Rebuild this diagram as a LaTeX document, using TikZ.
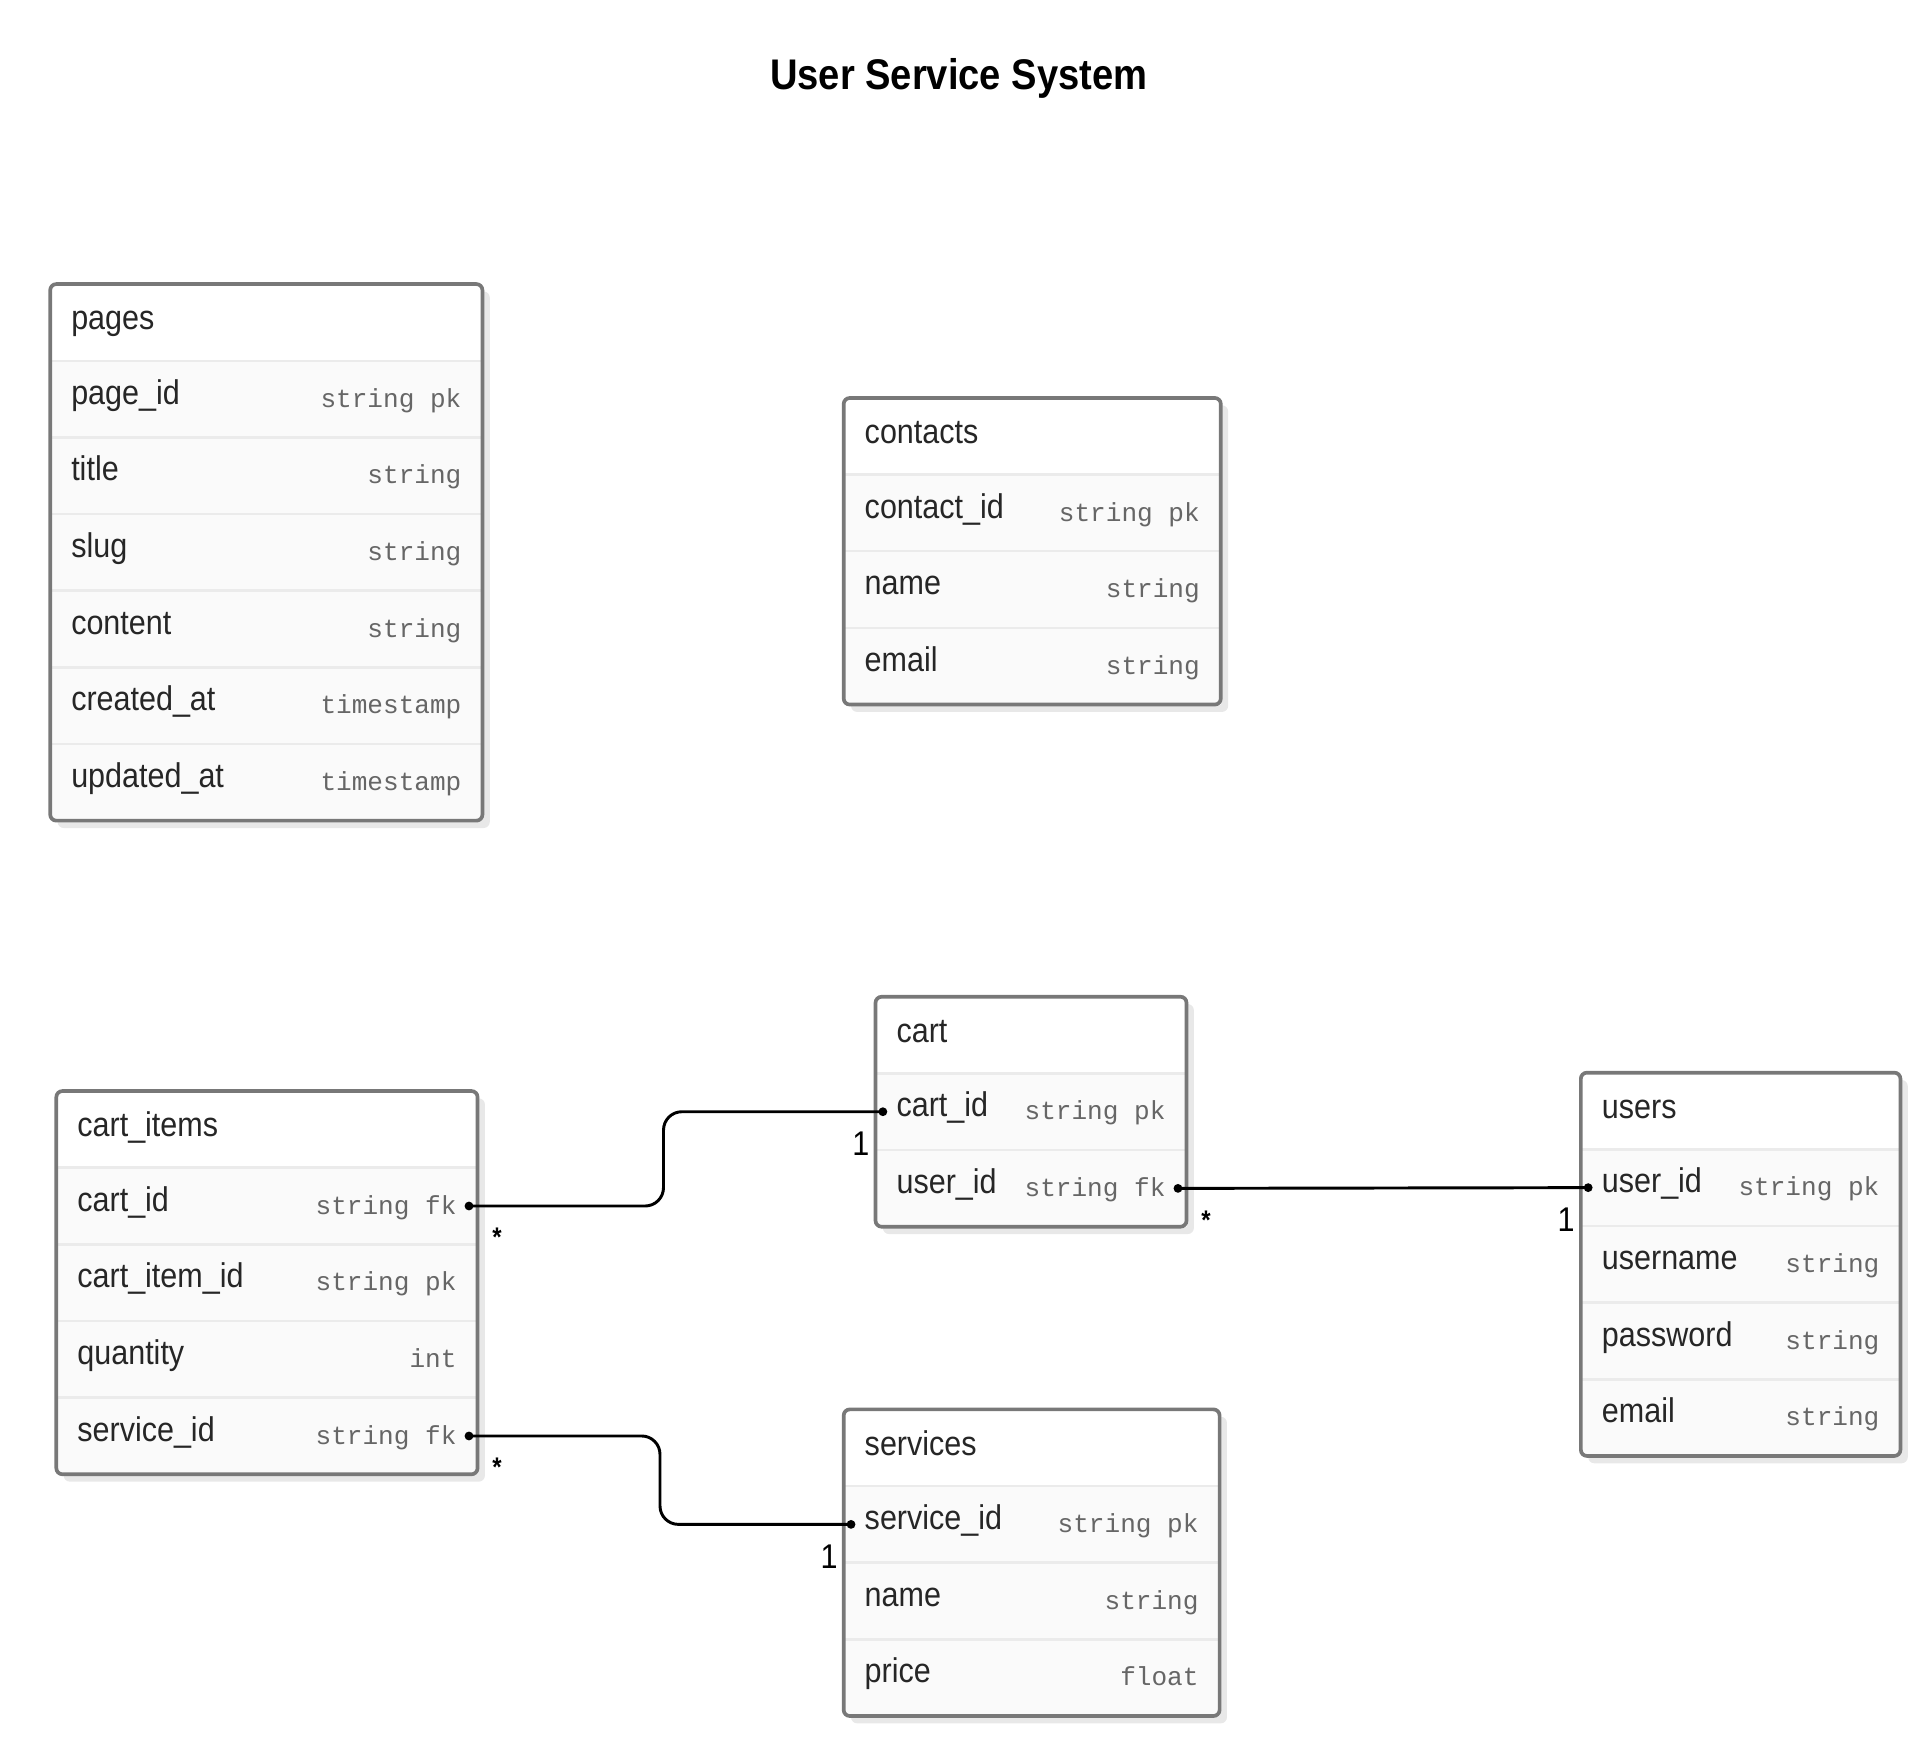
\documentclass[tikz,border=0pt]{standalone}
\usepackage{fontspec}
\setmainfont{Liberation Sans}[FakeStretch=0.89]
\setmonofont{Liberation Mono}
\usetikzlibrary{calc}

\begin{document}
\begin{tikzpicture}[x=1pt,y=-1pt,
    tshadow/.style={fill=black!9, rounded corners=5pt},
    thead/.style={fill=white, anchor=north west, minimum height=62.6pt, inner sep=0pt, outer sep=0pt},
    trow/.style={fill=black!2, anchor=north west, minimum height=62.6pt, inner sep=0pt, outer sep=0pt},
    tsep/.style={draw=black!8, line width=2pt},
    tframe/.style={draw=black!53, line width=3pt, rounded corners=5pt},
    fname/.style={anchor=base west, inner sep=0pt, text=black!85, font=\fontsize{28}{30}\selectfont},
    ftype/.style={anchor=base east, inner sep=0pt, text=black!60, font=\ttfamily\fontsize{21.3}{24}\selectfont},
    rel/.style={draw=black, line width=2.4pt, rounded corners=15pt},
    dot/.style={fill=black},
    many/.style={anchor=north, inner sep=0pt, font=\bfseries\fontsize{22}{24}\selectfont},
    one/.style={inner sep=0pt, font=\fontsize{28}{30}\selectfont}]
    \useasboundingbox (0,0) rectangle (1568,1418);

    \node[anchor=base, font=\bfseries\fontsize{35}{40}\selectfont] (title) at (783,73) {User Service System};

    % pages
    \begin{scope}[shift={(41,232)}]
        \fill[tshadow] (6,6) rectangle +(353,438.2);
        \node[thead, minimum width=353pt] (pages-0) at (0,0) {};
        \node[fname] (pages-h) at ([xshift=17pt,yshift=-6pt]pages-0.west) {pages};
        \foreach \nm/\ty [count=\i] in {page\_id/string pk, title/string, slug/string, content/string, created\_at/timestamp, updated\_at/timestamp}{
            \node[trow, minimum width=353pt] (pages-\i) at (0,{62.6*\i}) {};
            \draw[tsep] (pages-\i.north west) -- (pages-\i.north east);
            \node[fname] (pages-\i-n) at ([xshift=17pt,yshift=-4.2pt]pages-\i.west) {\nm};
            \node[ftype] (pages-\i-t) at ([xshift=-17pt,yshift=-6.7pt]pages-\i.east) {\ty};
        }
        \draw[tframe] (pages-0.north west) rectangle (pages-6.south east);
    \end{scope}

    % contacts
    \begin{scope}[shift={(689,325)}]
        \fill[tshadow] (6,6) rectangle +(308,250.4);
        \node[thead, minimum width=308pt] (contacts-0) at (0,0) {};
        \node[fname] (contacts-h) at ([xshift=17pt,yshift=-6pt]contacts-0.west) {contacts};
        \foreach \nm/\ty [count=\i] in {contact\_id/string pk, name/string, email/string}{
            \node[trow, minimum width=308pt] (contacts-\i) at (0,{62.6*\i}) {};
            \draw[tsep] (contacts-\i.north west) -- (contacts-\i.north east);
            \node[fname] (contacts-\i-n) at ([xshift=17pt,yshift=-4.2pt]contacts-\i.west) {\nm};
            \node[ftype] (contacts-\i-t) at ([xshift=-17pt,yshift=-6.7pt]contacts-\i.east) {\ty};
        }
        \draw[tframe] (contacts-0.north west) rectangle (contacts-3.south east);
    \end{scope}

    % cart
    \begin{scope}[shift={(715,814)}]
        \fill[tshadow] (6,6) rectangle +(254,187.8);
        \node[thead, minimum width=254pt] (cart-0) at (0,0) {};
        \node[fname] (cart-h) at ([xshift=17pt,yshift=-6pt]cart-0.west) {cart};
        \foreach \nm/\ty [count=\i] in {cart\_id/string pk, user\_id/string fk}{
            \node[trow, minimum width=254pt] (cart-\i) at (0,{62.6*\i}) {};
            \draw[tsep] (cart-\i.north west) -- (cart-\i.north east);
            \node[fname] (cart-\i-n) at ([xshift=17pt,yshift=-4.2pt]cart-\i.west) {\nm};
            \node[ftype] (cart-\i-t) at ([xshift=-17pt,yshift=-6.7pt]cart-\i.east) {\ty};
        }
        \draw[tframe] (cart-0.north west) rectangle (cart-2.south east);
    \end{scope}

    % users
    \begin{scope}[shift={(1291,876)}]
        \fill[tshadow] (6,6) rectangle +(261,313);
        \node[thead, minimum width=261pt] (users-0) at (0,0) {};
        \node[fname] (users-h) at ([xshift=17pt,yshift=-6pt]users-0.west) {users};
        \foreach \nm/\ty [count=\i] in {user\_id/string pk, username/string, password/string, email/string}{
            \node[trow, minimum width=261pt] (users-\i) at (0,{62.6*\i}) {};
            \draw[tsep] (users-\i.north west) -- (users-\i.north east);
            \node[fname] (users-\i-n) at ([xshift=17pt,yshift=-4.2pt]users-\i.west) {\nm};
            \node[ftype] (users-\i-t) at ([xshift=-17pt,yshift=-6.7pt]users-\i.east) {\ty};
        }
        \draw[tframe] (users-0.north west) rectangle (users-4.south east);
    \end{scope}

    % cart_items
    \begin{scope}[shift={(46,891)}]
        \fill[tshadow] (6,6) rectangle +(344,313);
        \node[thead, minimum width=344pt] (items-0) at (0,0) {};
        \node[fname] (items-h) at ([xshift=17pt,yshift=-6pt]items-0.west) {cart\_items};
        \foreach \nm/\ty [count=\i] in {cart\_id/string fk, cart\_item\_id/string pk, quantity/int, service\_id/string fk}{
            \node[trow, minimum width=344pt] (items-\i) at (0,{62.6*\i}) {};
            \draw[tsep] (items-\i.north west) -- (items-\i.north east);
            \node[fname] (items-\i-n) at ([xshift=17pt,yshift=-4.2pt]items-\i.west) {\nm};
            \node[ftype] (items-\i-t) at ([xshift=-17pt,yshift=-6.7pt]items-\i.east) {\ty};
        }
        \draw[tframe] (items-0.north west) rectangle (items-4.south east);
    \end{scope}

    % services
    \begin{scope}[shift={(689,1151)}]
        \fill[tshadow] (6,6) rectangle +(307,250.4);
        \node[thead, minimum width=307pt] (services-0) at (0,0) {};
        \node[fname] (services-h) at ([xshift=17pt,yshift=-6pt]services-0.west) {services};
        \foreach \nm/\ty [count=\i] in {service\_id/string pk, name/string, price/float}{
            \node[trow, minimum width=307pt] (services-\i) at (0,{62.6*\i}) {};
            \draw[tsep] (services-\i.north west) -- (services-\i.north east);
            \node[fname] (services-\i-n) at ([xshift=17pt,yshift=-4.2pt]services-\i.west) {\nm};
            \node[ftype] (services-\i-t) at ([xshift=-17pt,yshift=-6.7pt]services-\i.east) {\ty};
        }
        \draw[tframe] (services-0.north west) rectangle (services-3.south east);
    \end{scope}

    % relations
    \coordinate (r1a) at ([xshift=-7pt]items-1.east);
    \coordinate (r1b) at ([xshift=6pt]cart-1.west);
    \coordinate (r2a) at ([xshift=-7pt]cart-2.east);
    \coordinate (r2b) at ([xshift=6pt]users-1.west);
    \coordinate (r3a) at ([xshift=-7pt]items-4.east);
    \coordinate (r3b) at ([xshift=6pt]services-1.west);

    \draw[rel] (r1a) -| ($(r1a)!0.47!(r1b)$) |- (r1b);
    \draw[rel] (r2a) -- (r2b);
    \draw[rel] (r3a) -| ($(r3a)!0.5!(r3b)$) |- (r3b);
    \foreach \p in {r1a,r1b,r2a,r2b,r3a,r3b}
        \fill[dot] (\p) circle (3.6pt);

    \node[many] (r1m) at ([shift={(23pt,-18pt)}]r1a) {*};
    \node[one]  (r1o) at ([shift={(-18pt,-26pt)}]r1b) {1};
    \node[many] (r2m) at ([shift={(23pt,-18pt)}]r2a) {*};
    \node[one]  (r2o) at ([shift={(-18pt,-26pt)}]r2b) {1};
    \node[many] (r3m) at ([shift={(23pt,-18pt)}]r3a) {*};
    \node[one]  (r3o) at ([shift={(-18pt,-26pt)}]r3b) {1};
\end{tikzpicture}
\end{document}
